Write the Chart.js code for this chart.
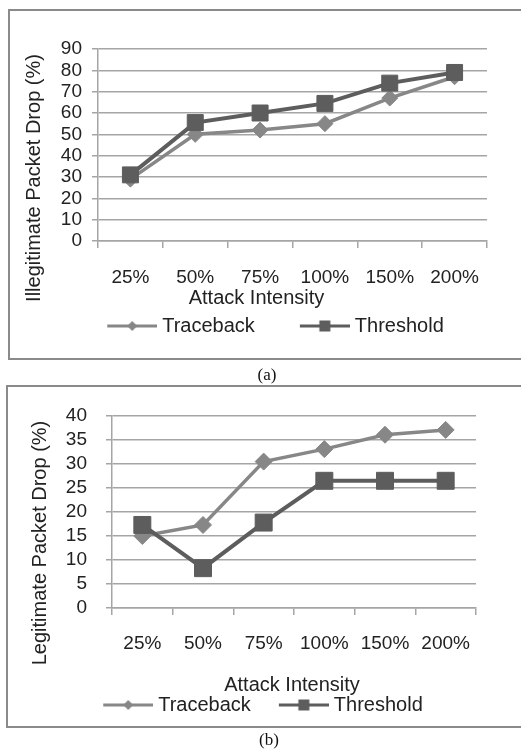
<!DOCTYPE html>
<html>
<head>
<meta charset="utf-8">
<script src="https://cdn.jsdelivr.net/npm/chart.js@4/dist/chart.umd.min.js"></script>
<style>
  html, body { margin: 0; padding: 0; background: #fff; }
  body { width: 521px; height: 751px; overflow: hidden; position: relative; }
  .frame { position: absolute; border: 2px solid #8a8a8a; border-right: none; box-sizing: border-box; }
  #frameA { left: 8px; top: 9px; width: 600px; height: 351px; }
  #frameB { left: 6px; top: 385px; width: 600px; height: 343px; }
  canvas { position: absolute; left: 0; }
  #chartA { top: 0; }
  #chartB { top: 380px; }
  .cap { position: absolute; font-family: "Liberation Serif", "Times New Roman", serif; font-size: 17px; color: #111;
         transform: translate(-50%, -50%); white-space: nowrap; }
</style>
</head>
<body>
<div class="frame" id="frameA"></div>
<div class="frame" id="frameB"></div>
<canvas id="chartA" width="521" height="360"></canvas>
<canvas id="chartB" width="521" height="360"></canvas>
<div class="cap" style="left:267px; top:375px;">(a)</div>
<div class="cap" style="left:269px; top:740px;">(b)</div>
<script>
// Attack intensity levels on the x axis
const categories = ['25%', '50%', '75%', '100%', '150%', '200%'];
const seriesNames = ['Traceback', 'Threshold'];

// (a) Illegitimate packet drop (%)
const illegitTraceback = [29, 50, 52, 55, 67, 77];
const illegitThreshold = [31, 55.5, 60, 64.5, 74, 79];
const illegitAxisMax = 90;
const illegitAxisStep = 10;

// (b) Legitimate packet drop (%)
const legitTraceback = [15, 17.3, 30.5, 33.1, 36.1, 37.1];
const legitThreshold = [17.3, 8.3, 17.8, 26.5, 26.5, 26.5];
const legitAxisMax = 40;
const legitAxisStep = 5;

const FONT = '"Liberation Sans", Arial, sans-serif';
const TEXT = '#222';
const GRID = '#a5a5a5';
const TRACE_COLOR = '#878787';
const THRESH_COLOR = '#5d5d5d';

// Legend swatch: a short line with the series marker in its middle,
// right-aligned inside a canvas that is a little wider than the legend box.
function legendSwatch(color, marker, boxW) {
  const c = document.createElement('canvas');
  c.width = boxW + 10; c.height = 20;
  const g = c.getContext('2d');
  const x1 = c.width - 50, x2 = c.width, mid = c.width - 25, y = 10;
  g.strokeStyle = color; g.lineWidth = 3;
  g.beginPath(); g.moveTo(x1, y); g.lineTo(x2, y); g.stroke();
  g.fillStyle = color;
  g.beginPath();
  if (marker === 'diamond') {
    g.moveTo(mid, y - 5); g.lineTo(mid + 5, y); g.lineTo(mid, y + 5); g.lineTo(mid - 5, y);
  } else {
    g.rect(mid - 5.5, y - 5.5, 11, 11);
  }
  g.closePath(); g.fill();
  return c;
}

// Draws axis titles centred around a point offset from the plot area
const axisTitles = {
  id: 'axisTitles',
  afterDraw(chart, args, opts) {
    const { ctx, chartArea } = chart;
    ctx.save();
    ctx.fillStyle = TEXT;
    ctx.font = '20px ' + FONT;
    ctx.textAlign = 'center';
    ctx.textBaseline = 'middle';
    const cx = (chartArea.left + chartArea.right) / 2;
    const cy = (chartArea.top + chartArea.bottom) / 2;
    ctx.fillText(opts.xText, cx + opts.xDx, chartArea.bottom + opts.xDy);
    ctx.translate(opts.yX, cy + opts.yDy);
    ctx.rotate(-Math.PI / 2);
    ctx.fillText(opts.yText, 0, 0);
    ctx.restore();
  }
};

function makeChart(id, cfg) {
  const datasets = [
    {
      label: seriesNames[0], data: cfg.trace, order: 1,
      borderColor: TRACE_COLOR, backgroundColor: TRACE_COLOR, borderWidth: 3.5,
      pointStyle: 'rectRot', pointRadius: cfg.diamondR, pointBorderWidth: 1,
      pointBackgroundColor: TRACE_COLOR, pointBorderColor: TRACE_COLOR, tension: 0
    },
    {
      label: seriesNames[1], data: cfg.thresh, order: 0,
      borderColor: THRESH_COLOR, backgroundColor: THRESH_COLOR, borderWidth: 4,
      pointStyle: 'rect', pointRadius: cfg.squareR, pointBorderWidth: 1,
      pointBackgroundColor: THRESH_COLOR, pointBorderColor: THRESH_COLOR, tension: 0
    }
  ];
  const swatches = [
    legendSwatch(TRACE_COLOR, 'diamond', cfg.legendBox),
    legendSwatch(THRESH_COLOR, 'square', cfg.legendBox)
  ];
  return new Chart(document.getElementById(id), {
    type: 'line',
    data: { labels: categories, datasets },
    plugins: [axisTitles],
    options: {
      responsive: false,
      animation: false,
      devicePixelRatio: 1,
      layout: { padding: cfg.padding },
      scales: {
        x: {
          offset: true,
          grid: { display: true, offset: true, drawOnChartArea: false, color: GRID, lineWidth: 1.5, tickLength: 7 },
          border: { color: GRID, width: 1.5 },
          ticks: { color: TEXT, font: { family: FONT, size: 19 }, padding: cfg.xTickPad, maxRotation: 0, autoSkip: false },
          afterFit(scale) { scale.height = cfg.xHeight; }
        },
        y: {
          min: 0, max: cfg.max,
          grid: { color: GRID, lineWidth: 1.5, tickLength: 6 },
          border: { color: GRID, width: 1.5 },
          ticks: { stepSize: cfg.step, autoSkip: false, color: TEXT, font: { family: FONT, size: 19 }, padding: cfg.yTickPad },
          afterFit(scale) { scale.width = cfg.yWidth; }
        }
      },
      plugins: {
        tooltip: { enabled: false },
        legend: {
          position: 'bottom',
          labels: {
            usePointStyle: true,
            pointStyleWidth: cfg.legendBox,
            padding: 10,
            color: TEXT,
            font: { family: FONT, size: 20 },
            generateLabels() {
              return seriesNames.map((name, i) => ({
                text: name, datasetIndex: i, pointStyle: swatches[i],
                fillStyle: 'transparent', strokeStyle: 'transparent', lineWidth: 0, hidden: false, fontColor: TEXT
              }));
            }
          }
        },
        axisTitles: cfg.titles
      }
    }
  });
}

makeChart('chartA', {
  trace: illegitTraceback, thresh: illegitThreshold,
  max: illegitAxisMax, step: illegitAxisStep,
  padding: { top: 49, right: 34, bottom: 14, left: 29 },
  yWidth: 69, xHeight: 65, xTickPad: 18, yTickPad: 10,
  legendBox: 80, diamondR: 8, squareR: 11.3,
  titles: { xText: 'Attack Intensity', xDx: -36, xDy: 57,
            yText: 'Illegitimate Packet Drop (%)', yX: 34, yDy: 33 }
});

makeChart('chartB', {
  trace: legitTraceback, thresh: legitThreshold,
  max: legitAxisMax, step: legitAxisStep,
  padding: { top: 36, right: 45, bottom: 15, left: 32 },
  yWidth: 80, xHeight: 77, xTickPad: 17, yTickPad: 19,
  legendBox: 63, diamondR: 8.5, squareR: 12,
  titles: { xText: 'Attack Intensity', xDx: -2, xDy: 77,
            yText: 'Legitimate Packet Drop (%)', yX: 40, yDy: 31 }
});
</script>
</body>
</html>
